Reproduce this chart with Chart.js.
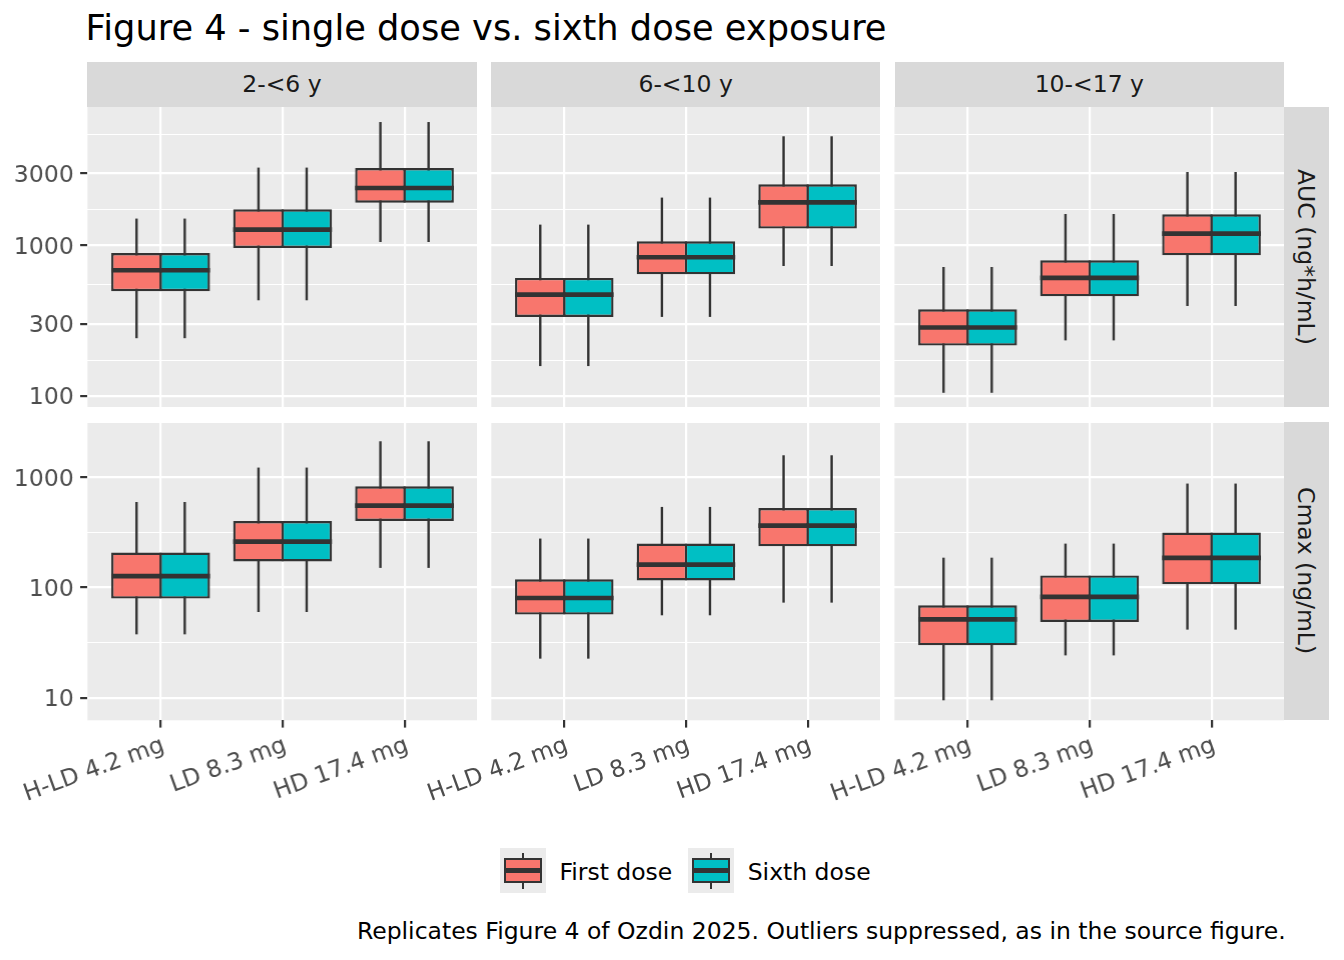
<!DOCTYPE html>
<html>
<head>
  <title>Figure 4 - single dose vs. sixth dose exposure</title>
  <script src="https://cdn.jsdelivr.net/npm/chart.js@4.4.1/dist/chart.umd.min.js"></script>
  <style>
    body {
      margin: 0;
      background: #fff;
      font-family: 'DejaVu Sans', sans-serif;
    }
    #page {
      position: relative;
      width: 1344px;
      height: 960px;
      overflow: hidden;
    }
    .title {
      position: absolute;
      left: 85.6px;
      top: 9.5px;
      font-size: 35.2px;
      line-height: 1;
      color: #000;
      white-space: nowrap;
    }
    .strip {
      position: absolute;
      background: #D9D9D9;
      color: #1A1A1A;
      font-size: 23.5px;
      display: flex;
      align-items: center;
      justify-content: center;
      white-space: nowrap;
    }
    .strip.right {
      writing-mode: vertical-rl;
    }
    .panel {
      position: absolute;
    }
    .key {
      position: absolute;
      width: 45.7px;
      height: 45px;
      background: #EBEBEB;
    }
    .key .whisker {
      position: absolute;
      left: 21.7px;
      top: 4.4px;
      width: 2.3px;
      height: 36.6px;
      background: #333333;
    }
    .key .kbox {
      position: absolute;
      left: 4.3px;
      top: 10px;
      width: 37.4px;
      height: 25px;
      box-sizing: border-box;
      border: 2.3px solid #333333;
    }
    .key .kmed {
      position: absolute;
      left: 0;
      right: 0;
      top: 7.9px;
      height: 4.6px;
      background: #333333;
    }
    .ktext, .caption {
      position: absolute;
      font-size: 23.5px;
      line-height: 1;
      color: #000;
      white-space: nowrap;
    }
  </style>
</head>
<body>
  <div id="page">
    <div class="title">Figure 4 - single dose vs. sixth dose exposure</div>
    <div id="legend"></div>
    <div class="caption" style="right:58.4px; top:920.1px;">Replicates Figure 4 of Ozdin 2025. Outliers suppressed, as in the source figure.</div>
  </div>

  <script>
    const ageGroups = ['2-<6 y', '6-<10 y', '10-<17 y'];
    const doseLevels = ['H-LD 4.2 mg', 'LD 8.3 mg', 'HD 17.4 mg'];
    const metricLabels = ['AUC (ng*h/mL)', 'Cmax (ng/mL)'];
    const seriesNames = ['First dose', 'Sixth dose'];
    const seriesColors = ['#F8766D', '#00BFC4'];

    // per age group, per dose: [lower whisker, Q1, median, Q3, upper whisker]
    const aucFirst = [
      [[242, 496, 684, 890, 1507], [432, 961, 1274, 1737, 3286], [1053, 1923, 2405, 3266, 6596]],
      [[158, 335, 471, 608, 1374], [335, 643, 834, 1065, 2077], [730, 1293, 1932, 2545, 5303]],
      [[105, 216, 285, 376, 719], [234, 459, 608, 796, 1616], [396, 859, 1197, 1609, 3072]]
    ];
    const aucSixth = [
      [[242, 496, 684, 890, 1507], [432, 961, 1274, 1737, 3286], [1053, 1923, 2405, 3266, 6596]],
      [[158, 335, 471, 608, 1374], [335, 643, 834, 1065, 2077], [730, 1293, 1932, 2545, 5303]],
      [[105, 216, 285, 376, 719], [234, 459, 608, 796, 1616], [396, 859, 1197, 1609, 3072]]
    ];
    const cmaxFirst = [
      [[37.6, 79.4, 127, 208, 600], [60, 173, 262, 403, 1233], [151, 403, 556, 834, 2138]],
      [[22.6, 56.8, 80.4, 119, 279], [56, 116, 162, 251, 541], [73, 237, 366, 529, 1595]],
      [[9.45, 29.9, 51.5, 69, 187], [24.2, 48.7, 82.2, 129, 251], [41.5, 107, 186, 316, 882]]
    ];
    const cmaxSixth = [
      [[37.6, 79.4, 127, 208, 600], [60, 173, 262, 403, 1233], [151, 403, 556, 834, 2138]],
      [[22.6, 56.8, 80.4, 119, 279], [56, 116, 162, 251, 541], [73, 237, 366, 529, 1595]],
      [[9.45, 29.9, 51.5, 69, 187], [24.2, 48.7, 82.2, 129, 251], [41.5, 107, 186, 316, 882]]
    ];

    const aucTicks = [100, 300, 1000, 3000];
    const aucMinor = [173, 548, 1732, 5477];
    const aucLimits = [84.5, 8300];
    const cmaxTicks = [10, 100, 1000];
    const cmaxMinor = [31.6, 316, 3162];
    const cmaxLimits = [6.22, 3200];

    // facet geometry (px)
    const colLeft = [87.3, 491, 894.7];
    const panelW = 389.3;
    const rowTop = [106.7, 421.7];
    const panelH = [300, 298.3];
    const stripSize = 44.7;
    const axisW = 87.3;
    const axisH = 120;

    const INK = '#333333';
    const LINE = 2.4;

    Chart.defaults.font.family = "'DejaVu Sans', sans-serif";
    Chart.defaults.font.size = 23.5;

    const page = document.getElementById('page');

    const boxPlugin = {
      id: 'boxWhiskers',
      beforeDraw(chart) {
        const a = chart.chartArea;
        const ctx = chart.ctx;
        ctx.save();
        ctx.fillStyle = '#EBEBEB';
        ctx.fillRect(a.left, a.top, a.right - a.left, a.bottom - a.top);
        ctx.restore();
      },
      beforeDatasetsDraw(chart) {
        const ctx = chart.ctx;
        const y = chart.scales.y;
        ctx.save();
        ctx.strokeStyle = INK;
        ctx.lineWidth = LINE;
        chart.data.datasets.forEach((ds, s) => {
          chart.getDatasetMeta(s).data.forEach((bar, i) => {
            const st = ds.stats[i];
            ctx.beginPath();
            ctx.moveTo(bar.x, y.getPixelForValue(st[0]));
            ctx.lineTo(bar.x, y.getPixelForValue(st[4]));
            ctx.stroke();
          });
        });
        ctx.restore();
      },
      afterDatasetsDraw(chart) {
        const ctx = chart.ctx;
        const y = chart.scales.y;
        ctx.save();
        ctx.strokeStyle = INK;
        ctx.lineWidth = 4.7;
        chart.data.datasets.forEach((ds, s) => {
          chart.getDatasetMeta(s).data.forEach((bar, i) => {
            const py = y.getPixelForValue(ds.stats[i][2]);
            ctx.beginPath();
            ctx.moveTo(bar.x - bar.width / 2, py);
            ctx.lineTo(bar.x + bar.width / 2, py);
            ctx.stroke();
          });
        });
        ctx.restore();
      }
    };

    function addStrip(text, left, top, w, h, cls) {
      const d = document.createElement('div');
      d.className = 'strip' + (cls ? ' ' + cls : '');
      d.style.left = left + 'px';
      d.style.top = top + 'px';
      d.style.width = w + 'px';
      d.style.height = h + 'px';
      d.textContent = text;
      page.appendChild(d);
    }

    function makePanel(row, col) {
      const first = row === 0 ? aucFirst : cmaxFirst;
      const sixth = row === 0 ? aucSixth : cmaxSixth;
      const major = row === 0 ? aucTicks : cmaxTicks;
      const minor = row === 0 ? aucMinor : cmaxMinor;
      const limits = row === 0 ? aucLimits : cmaxLimits;
      const bottom = row === 1;
      const left = col === 0;

      const holder = document.createElement('div');
      holder.className = 'panel';
      holder.style.left = (colLeft[col] - axisW) + 'px';
      holder.style.top = rowTop[row] + 'px';
      holder.style.width = (axisW + panelW) + 'px';
      holder.style.height = (panelH[row] + (bottom ? axisH : 0)) + 'px';
      const canvas = document.createElement('canvas');
      holder.appendChild(canvas);
      page.appendChild(holder);

      const groups = [first[col], sixth[col]];

      new Chart(canvas, {
        type: 'bar',
        data: {
          datasets: seriesNames.map((name, s) => ({
            label: name,
            stats: groups[s],
            data: doseLevels.map((d, i) => ({ x: i + 1, y: [groups[s][i][1], groups[s][i][3]] })),
            backgroundColor: seriesColors[s],
            borderColor: INK,
            borderWidth: LINE,
            borderSkipped: false,
            categoryPercentage: 0.79,
            barPercentage: 1.05
          }))
        },
        options: {
          responsive: true,
          maintainAspectRatio: false,
          animation: false,
          events: [],
          layout: { padding: 0 },
          plugins: {
            legend: { display: false },
            tooltip: { enabled: false }
          },
          scales: {
            x: {
              type: 'linear',
              min: 0.4,
              max: 3.6,
              offset: false,
              afterBuildTicks: s => { s.ticks = doseLevels.map((d, i) => ({ value: i + 1 })); },
              afterFit: s => {
                s.height = bottom ? axisH : 0;
                s.paddingLeft = 0;
                s.paddingRight = 0;
              },
              border: { display: false },
              grid: {
                offset: false,
                color: '#FFFFFF',
                lineWidth: 2.2,
                drawTicks: bottom,
                tickLength: 7.3,
                tickColor: INK,
                tickWidth: 2.2
              },
              ticks: {
                display: bottom,
                autoSkip: false,
                minRotation: 20,
                maxRotation: 20,
                padding: 4,
                labelOffset: 3,
                color: '#4D4D4D',
                callback: v => doseLevels[v - 1] || ''
              }
            },
            y: {
              type: 'logarithmic',
              min: limits[0],
              max: limits[1],
              afterBuildTicks: s => {
                s.ticks = major.concat(minor).sort((a, b) => a - b).map(v => ({ value: v }));
              },
              afterFit: s => {
                s.width = axisW;
                s.paddingTop = 0;
                s.paddingBottom = 0;
              },
              border: { display: false },
              grid: {
                color: '#FFFFFF',
                lineWidth: c => (c.tick && major.includes(c.tick.value)) ? 2.2 : 1.1,
                drawTicks: left,
                tickLength: 7.3,
                tickColor: c => (c.tick && major.includes(c.tick.value)) ? INK : 'rgba(0,0,0,0)',
                tickWidth: 2.2
              },
              ticks: {
                display: left,
                autoSkip: false,
                padding: 6.4,
                labelOffset: 2,
                color: '#4D4D4D',
                callback: v => major.includes(v) ? String(v) : ''
              }
            }
          }
        },
        plugins: [boxPlugin]
      });
    }

    ageGroups.forEach((g, c) => addStrip(g, colLeft[c], rowTop[0] - stripSize, panelW, stripSize));
    metricLabels.forEach((m, r) => addStrip(m, colLeft[2] + panelW, rowTop[r], stripSize, panelH[r], 'right'));

    for (let r = 0; r < 2; r++) {
      for (let c = 0; c < 3; c++) makePanel(r, c);
    }

    // legend
    const legend = document.getElementById('legend');
    const keyLeft = [500, 688];
    const textLeft = [559.4, 747.7];
    seriesNames.forEach((name, s) => {
      const key = document.createElement('div');
      key.className = 'key';
      key.style.left = keyLeft[s] + 'px';
      key.style.top = '848.3px';
      key.innerHTML = '<div class="whisker"></div><div class="kbox" style="background:' + seriesColors[s] + '"><div class="kmed"></div></div>';
      legend.appendChild(key);
      const t = document.createElement('div');
      t.className = 'ktext';
      t.style.left = textLeft[s] + 'px';
      t.style.top = '860.8px';
      t.textContent = name;
      legend.appendChild(t);
    });
  </script>
</body>
</html>
